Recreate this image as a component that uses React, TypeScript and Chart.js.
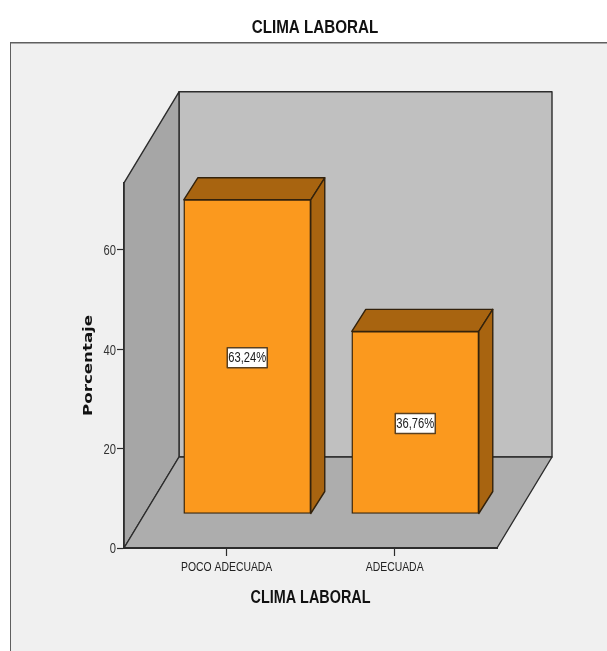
import React, { useEffect, useRef } from "react";
import { Chart, registerables } from "chart.js";

Chart.register(...registerables);

// Survey result: share of answers per category, in percent.
const categories = ["POCO ADECUADA", "ADECUADA"];
const percentages = [63.24, 36.76];
const valueLabels = ["63,24%", "36,76%"];
const yTickValues = [0, 20, 40, 60];

const SANS = '"Liberation Sans", sans-serif';
const WIDE = '"DejaVu Sans", sans-serif';

const COLORS = {
  page: "#ffffff",
  panel: "#f0f0f0",
  panelEdge: "#5f5f5f",
  backWall: "#c0c0c0",
  sideWall: "#a6a6a6",
  floor: "#adadad",
  wallLine: "#2c2c2c",
  barFront: "#fb991e",
  barShade: "#a86410",
  barLine: "#33220c",
  tagLine: "#5a4020",
};

// Oblique projection of the box: how far the walls and the bars recede.
const WALL_DEPTH = { dx: 55, dy: -91 };
const BAR_SHIFT = { dx: 20.6, dy: -34 };
const BAR_DEPTH = { dx: 14, dy: -22 };

function polygon(ctx: CanvasRenderingContext2D, pts: number[][], fill: string, stroke: string, lw: number) {
  ctx.beginPath();
  pts.forEach(([x, y], i) => (i ? ctx.lineTo(x, y) : ctx.moveTo(x, y)));
  ctx.closePath();
  ctx.fillStyle = fill;
  ctx.fill();
  ctx.lineWidth = lw;
  ctx.strokeStyle = stroke;
  ctx.lineJoin = "round";
  ctx.stroke();
}

const boxPlugin = {
  id: "box3d",
  install(chart: any) {
    // Text is set condensed (Liberation) or extended (DejaVu) along its baseline.
    const ctx = chart.ctx;
    const fillText = ctx.fillText.bind(ctx);
    ctx.fillText = (text: string, x: number, y: number) => {
      const stretch = ctx.font.includes("DejaVu") ? 1.28 : 0.8;
      ctx.save();
      ctx.translate(x, y);
      ctx.scale(stretch, 1);
      fillText(text, 0, 0);
      ctx.restore();
    };
  },
  afterLayout(chart: any) {
    // The heading is centred on the panel, not on the plot.
    chart.titleBlock.left = 23;
    chart.titleBlock.right = 607;
  },
  beforeDraw(chart: any) {
    const { ctx, width, height, chartArea: a } = chart;
    const { dx, dy } = WALL_DEPTH;
    ctx.save();
    ctx.fillStyle = COLORS.page;
    ctx.fillRect(0, 0, width, height);
    ctx.fillStyle = COLORS.panel;
    ctx.fillRect(10, 42, width - 10, height - 42);
    ctx.fillStyle = COLORS.panelEdge;
    ctx.fillRect(10, 42, width - 10, 1.5);
    ctx.fillRect(10, 42, 1, height - 42);

    polygon(ctx, [[a.left + dx, a.top + dy], [a.right + dx, a.top + dy], [a.right + dx, a.bottom + dy], [a.left + dx, a.bottom + dy]], COLORS.backWall, COLORS.wallLine, 1.4);
    polygon(ctx, [[a.left, a.top], [a.left + dx, a.top + dy], [a.left + dx, a.bottom + dy], [a.left, a.bottom]], COLORS.sideWall, COLORS.wallLine, 1.4);
    polygon(ctx, [[a.left, a.bottom], [a.left + dx, a.bottom + dy], [a.right + dx, a.bottom + dy], [a.right, a.bottom]], COLORS.floor, COLORS.wallLine, 1.4);
    ctx.restore();
  },
  beforeDatasetDraw(chart: any, args: any) {
    const { ctx } = chart;
    const { dx, dy } = BAR_DEPTH;
    ctx.save();
    ctx.translate(BAR_SHIFT.dx, BAR_SHIFT.dy);
    chart.getDatasetMeta(args.index).data.forEach((bar: any) => {
      const { x, y, base, width } = bar.getProps(["x", "y", "base", "width"], true);
      const l = x - width / 2;
      const r = x + width / 2;
      polygon(ctx, [[l, y], [l + dx, y + dy], [r + dx, y + dy], [r, y]], COLORS.barShade, COLORS.barLine, 1.4);
      polygon(ctx, [[r, y], [r + dx, y + dy], [r + dx, base + dy], [r, base]], COLORS.barShade, COLORS.barLine, 1.4);
    });
  },
  afterDatasetDraw(chart: any, args: any) {
    const { ctx } = chart;
    // Value tags sit on the middle of each front face.
    ctx.font = `14px ${SANS}`;
    ctx.textAlign = "center";
    ctx.textBaseline = "middle";
    chart.getDatasetMeta(args.index).data.forEach((bar: any, i: number) => {
      const { x, y, base } = bar.getProps(["x", "y", "base"], true);
      const cy = (y + base) / 2 + 1;
      ctx.fillStyle = "#ffffff";
      ctx.strokeStyle = COLORS.tagLine;
      ctx.lineWidth = 1.5;
      ctx.fillRect(x - 20, cy - 10, 40, 20);
      ctx.strokeRect(x - 20, cy - 10, 40, 20);
      ctx.fillStyle = "#1a1a1a";
      ctx.fillText(valueLabels[i], x, cy + 0.5);
    });
    ctx.restore();
  },
};

export default function App() {
  const ref = useRef<HTMLCanvasElement>(null);

  useEffect(() => {
    const chart = new Chart(ref.current!, {
      type: "bar",
      data: {
        datasets: [
          {
            data: percentages.map((y, x) => ({ x, y })),
            backgroundColor: COLORS.barFront,
            borderColor: COLORS.barLine,
            borderWidth: 1.4,
            borderSkipped: false,
            barThickness: 127,
            clip: false,
          },
        ],
      } as any,
      options: {
        animation: false,
        responsive: false,
        layout: { padding: { left: 0, right: 110, top: 0, bottom: 0 } },
        plugins: {
          legend: { display: false },
          tooltip: { enabled: false },
          title: {
            display: true,
            text: "CLIMA LABORAL",
            color: "#111111",
            font: { family: SANS, size: 19, weight: "bold" },
            padding: { top: 16, bottom: 144 },
          },
        },
        scales: {
          x: {
            type: "linear",
            offset: false,
            min: -0.611,
            max: 1.609,
            afterBuildTicks: (s: any) => {
              s.ticks = categories.map((_, value) => ({ value }));
            },
            afterFit: (s: any) => {
              s.height = 103;
            },
            ticks: {
              autoSkip: false,
              maxRotation: 0,
              padding: 4,
              color: "#222222",
              font: { family: SANS, size: 13 },
              callback: (v: any) => categories[v],
            },
            grid: { offset: false, drawOnChartArea: false, drawTicks: true, tickLength: 8, tickColor: "#2c2c2c", tickWidth: 1.2 },
            border: { display: true, color: "#2c2c2c", width: 2 },
            title: {
              display: true,
              text: "CLIMA LABORAL",
              color: "#111111",
              font: { family: SANS, size: 18, weight: "bold" },
              padding: { bottom: 42 },
            },
          },
          y: {
            min: 0,
            max: 73.5,
            afterBuildTicks: (s: any) => {
              s.ticks = yTickValues.map((value) => ({ value }));
            },
            afterFit: (s: any) => {
              s.width = 124;
            },
            ticks: {
              padding: 1,
              labelOffset: 1.5,
              color: "#333333",
              font: { family: SANS, size: 14 },
            },
            grid: { drawOnChartArea: false, drawTicks: true, tickLength: 7, tickColor: "#2c2c2c", tickWidth: 1.2 },
            border: { display: true, color: "#2c2c2c", width: 1.4 },
            title: {
              display: true,
              text: "Porcentaje",
              color: "#111111",
              font: { family: WIDE, size: 13, weight: "bold" },
              padding: { top: 81 },
            },
          },
        },
      },
      plugins: [boxPlugin],
    } as any);
    return () => chart.destroy();
  }, []);

  return (
    <div style={{ position: "absolute", left: 0, top: 0, width: 607, height: 651 }}>
      <canvas ref={ref} width={607} height={651} style={{ display: "block" }} />
    </div>
  );
}
